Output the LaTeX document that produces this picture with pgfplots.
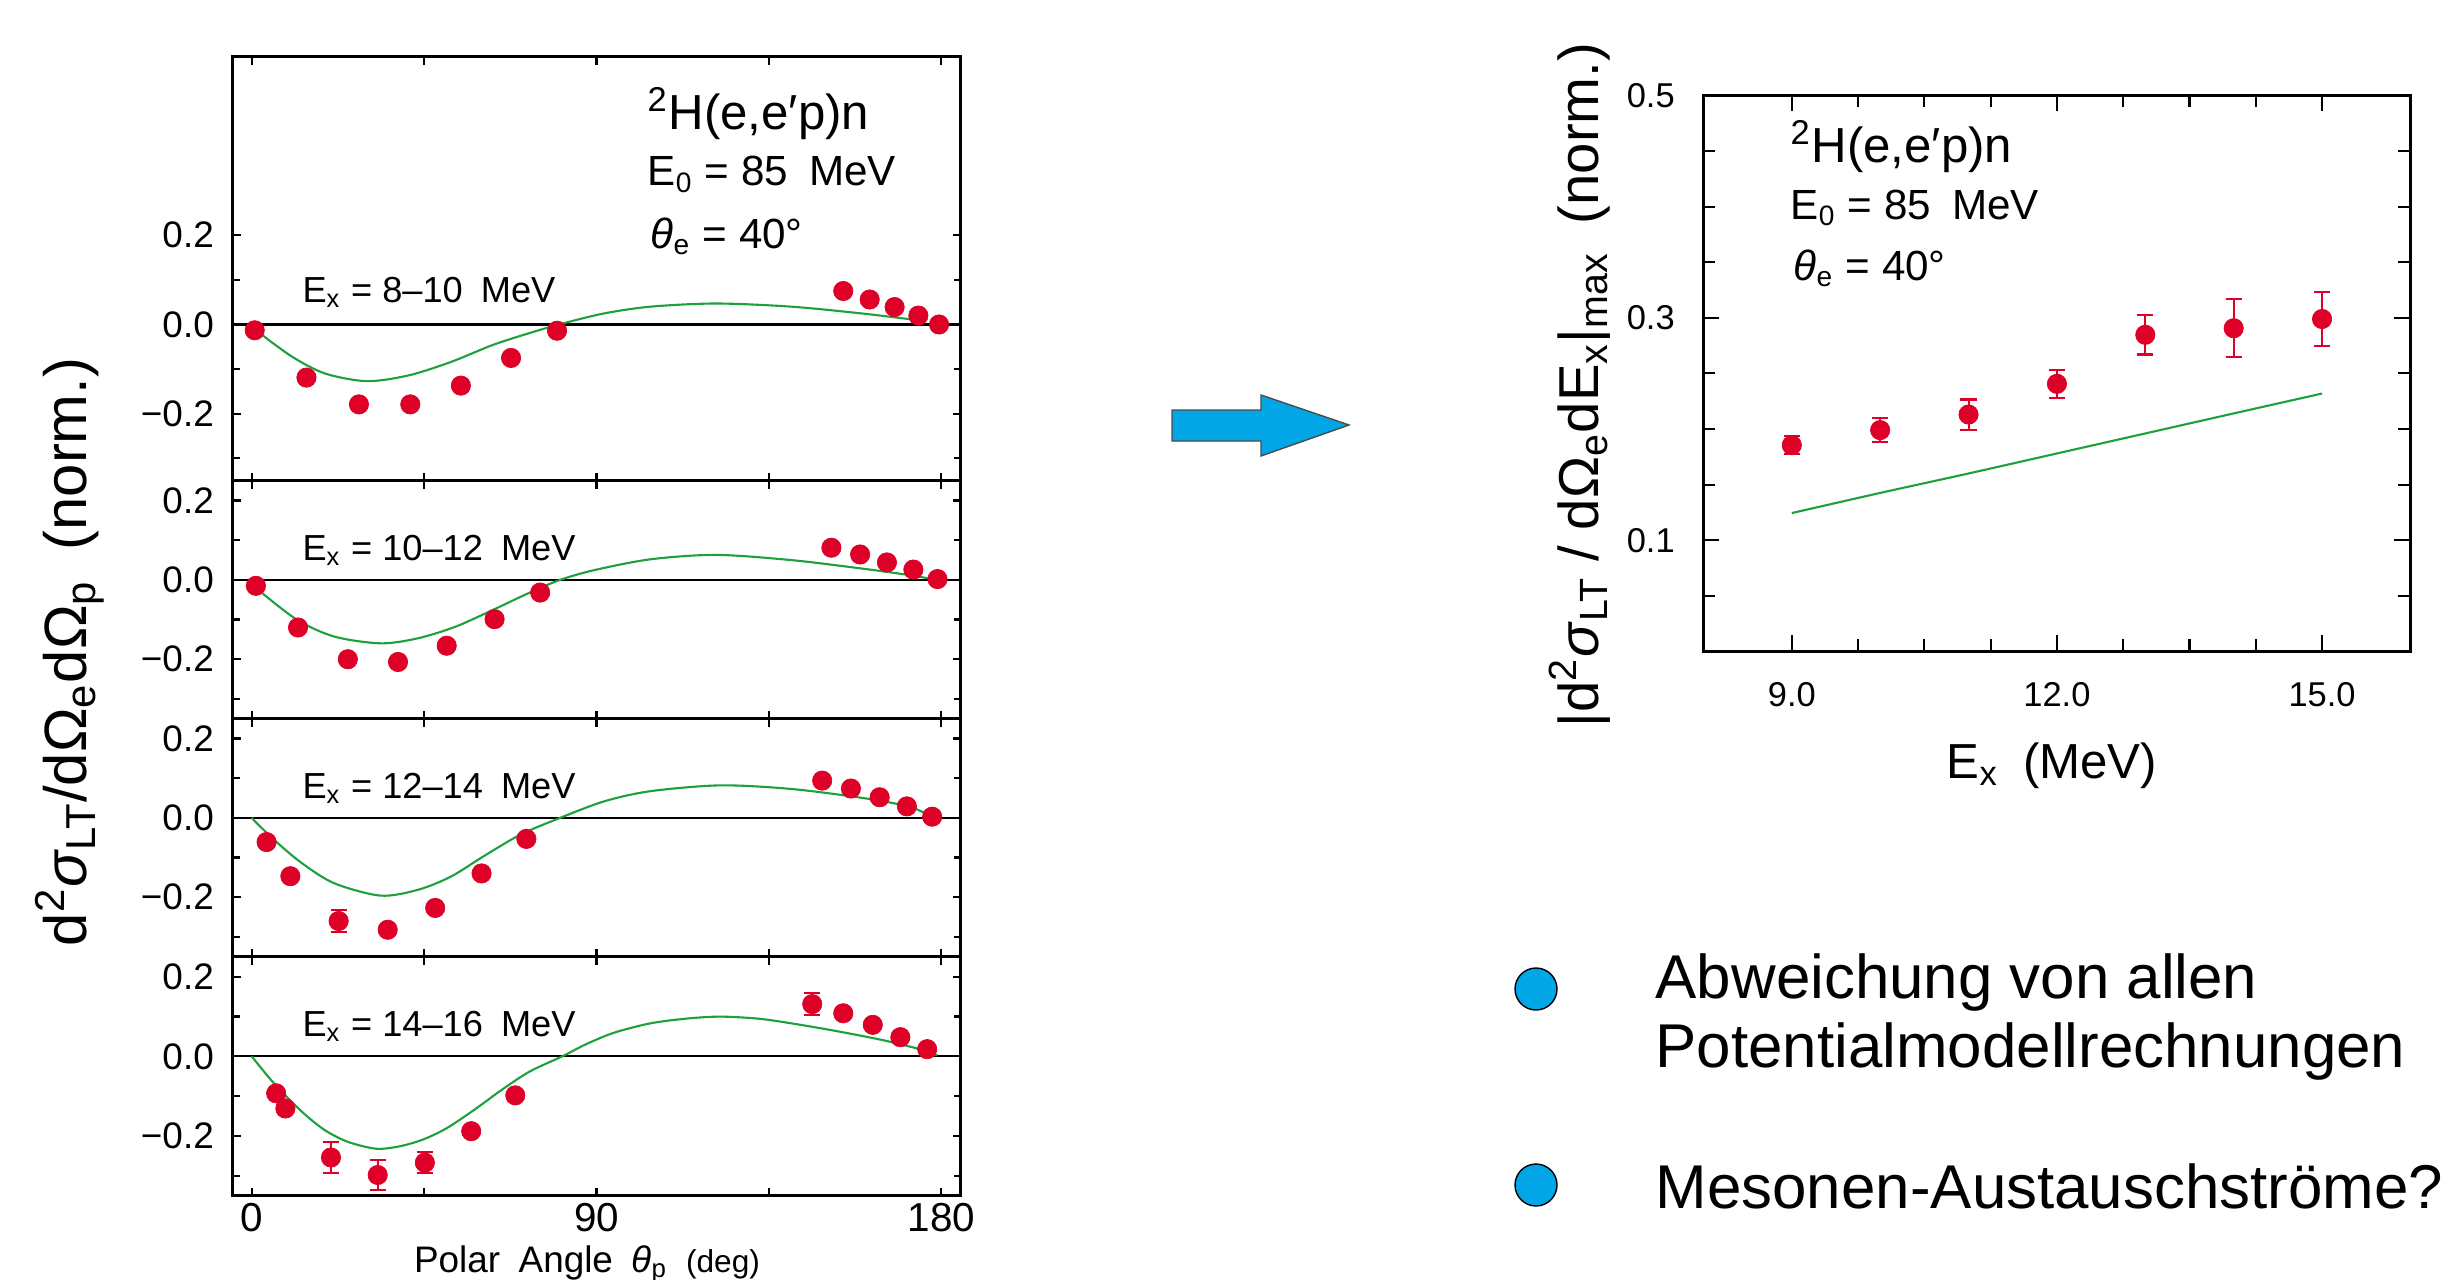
\documentclass[border=0pt]{standalone}
\usepackage{fontspec}
\setmainfont{Liberation Sans}
\newfontfamily\pf{Liberation Sans}
\usepackage{pgfplots}
\pgfplotsset{compat=1.18}

\definecolor{dotred}{RGB}{222,0,38}
\definecolor{thgreen}{RGB}{30,160,60}
\definecolor{arrowblue}{RGB}{0,166,230}
\newcommand{\fs}[1]{\fontsize{#1}{#1}\selectfont}

\tikzset{plab/.style={anchor=base west, inner sep=0pt, font=\pf\fs{10.3}}}
\pgfplotsset{
  frame/.style={scale only axis, anchor=north west, tick align=inside,
    axis line style={line width=0.8pt},
    every tick/.style={black, line width=0.6pt}},
  lp/.style={frame, width=7.28cm, xmin=-5, xmax=185,
    xtick={0,45,90,135,180}, xticklabels={},
    ytick={-0.2,0,0.2}, yticklabels={−0.2,0.0,0.2},
    minor ytick={-0.3,-0.1,0.1},
    major tick length=0.08cm, minor tick length=0.07cm,
    tick label style={font=\pf\fs{10.5}},
    yticklabel style={inner sep=0pt, xshift=-0.18cm}},
  dots/.style={only marks, mark=*, mark size=2.75pt, color=dotred,
    mark options={fill=dotred, draw=dotred, line width=0.2pt},
    error bars/.cd, y dir=both, y explicit,
    error bar style={dotred, line width=0.6pt},
    error mark options={dotred, rotate=90, mark size=2.3pt, line width=0.6pt}},
  theory/.style={thgreen, line width=0.6pt, smooth, no marks},
  zero/.style={black, line width=0.6pt, no marks},
}

\begin{document}
\begin{tikzpicture}
\path[use as bounding box] (0,0) rectangle (24.63cm,-12.79cm);

% ---- panel 1: Ex = 8-10 MeV
\begin{axis}[lp, at={(2.325cm,-0.567cm)}, height=4.24cm, ymin=-0.35, ymax=0.6]
\addplot[zero] coordinates {(-5,0) (185,0)};
\addplot[theory] table {
x y
2.8 -0.024
10.7 -0.073
19.2 -0.110
30.1 -0.127
41.0 -0.114
52.0 -0.084
62.9 -0.046
72.6 -0.019
81.1 0.002
92.1 0.025
104.2 0.040
121.2 0.047
140.7 0.040
158.9 0.025
173.5 0.010
};
\addplot[dots] table {
x y
0.8 -0.013
14.3 -0.119
28.0 -0.179
41.4 -0.179
54.6 -0.137
67.7 -0.075
79.7 -0.014
154.4 0.075
161.3 0.056
167.8 0.039
174.0 0.020
179.4 0.000
};
\node[plab] at (axis cs:13.1,0.05) {E\textsubscript{x} = 8–10\enspace MeV};
\end{axis}

% ---- panel 2: Ex = 10-12 MeV
\begin{axis}[lp, at={(2.325cm,-4.807cm)}, height=2.38cm, ymin=-0.35, ymax=0.25]
\addplot[zero] coordinates {(-5,0) (185,0)};
\addplot[theory] table {
x y
2.2 -0.029
11.9 -0.101
21.6 -0.143
33.7 -0.160
43.5 -0.147
53.2 -0.118
62.9 -0.076
72.6 -0.032
80.5 0.0
89.6 0.025
104.2 0.052
121.2 0.063
140.7 0.050
158.9 0.029
171.0 0.013
177.7 0.002
};
\addplot[dots] table {
x y
1.1 -0.015
12.1 -0.120
25.1 -0.200
38.2 -0.207
50.9 -0.166
63.4 -0.099
75.3 -0.032
151.3 0.081
158.8 0.064
165.8 0.044
172.7 0.026
179.0 0.002
};
\node[plab] at (axis cs:13.1,0.05) {E\textsubscript{x} = 10–12\enspace MeV};
\end{axis}

% ---- panel 3: Ex = 12-14 MeV
\begin{axis}[lp, at={(2.325cm,-7.187cm)}, height=2.38cm, ymin=-0.35, ymax=0.25]
\addplot[zero] coordinates {(-5,0) (185,0)};
\addplot[theory] table {
x y
0 0
5.8 -0.055
13.1 -0.114
21.6 -0.165
33.7 -0.196
43.5 -0.181
52.0 -0.148
60.5 -0.097
70.2 -0.042
80.5 0.0
92.1 0.042
104.2 0.0675
122.4 0.082
140.7 0.073
158.9 0.051
171.0 0.030
175.9 0.011
};
\addplot[dots] table [x=x, y=y, y error=e] {
x y e
3.9 -0.061 0
10.1 -0.147 0
22.7 -0.260 0.027
35.5 -0.282 0
47.9 -0.227 0
60.0 -0.140 0
71.7 -0.053 0
148.9 0.094 0
156.4 0.074 0
163.9 0.052 0
171.0 0.029 0
177.6 0.003 0
};
\node[plab] at (axis cs:13.1,0.05) {E\textsubscript{x} = 12–14\enspace MeV};
\end{axis}

% ---- panel 4: Ex = 14-16 MeV
\begin{axis}[lp, at={(2.325cm,-9.567cm)}, height=2.39cm, ymin=-0.35, ymax=0.25,
  xticklabels={0,,90,,180},
  xticklabel style={font=\pf\fs{11.5}, inner sep=0pt, yshift=-0.07cm}]
\addplot[zero] coordinates {(-5,0) (185,0)};
\addplot[theory] table {
x y
0 0
5.8 -0.0675
13.1 -0.139
19.2 -0.186
25.2 -0.215
32.5 -0.232
38.6 -0.226
44.7 -0.209
50.8 -0.181
58.0 -0.135
65.3 -0.084
72.6 -0.038
81.1 0.0
87.2 0.030
94.5 0.059
104.2 0.083
113.9 0.095
122.4 0.0996
132.2 0.0945
140.7 0.083
152.8 0.063
165.0 0.040
174.7 0.017
179.0 0.002
};
\addplot[dots] table [x=x, y=y, y error=e] {
x y e
6.4 -0.093 0
8.8 -0.131 0
20.7 -0.254 0.038
32.9 -0.298 0.037
45.2 -0.267 0.027
57.3 -0.188 0
68.8 -0.098 0
146.3 0.131 0.027
154.4 0.108 0
162.1 0.079 0
169.3 0.048 0
176.3 0.018 0
};
\node[plab] at (axis cs:13.1,0.05) {E\textsubscript{x} = 14–16\enspace MeV};
\end{axis}

% ---- right panel: maximum vs Ex
\begin{axis}[frame, at={(17.034cm,-0.954cm)}, width=7.07cm, height=5.56cm,
  xmin=8, xmax=16, ymin=0, ymax=0.5,
  xtick={9,12,15}, xticklabels={9.0,12.0,15.0},
  minor xtick={9.75,10.5,11.25,12.75,13.5,14.25},
  ytick={0.1,0.3,0.5}, yticklabels={0.1,0.3,0.5},
  minor ytick={0.05,0.15,0.2,0.25,0.35,0.4,0.45},
  major tick length=0.16cm, minor tick length=0.12cm,
  tick label style={font=\pf\fs{9.8}},
  xticklabel style={inner sep=0pt, yshift=-0.3cm},
  yticklabel style={inner sep=0pt, xshift=-0.28cm}]
\addplot[theory] table {
x y
9 0.1244
10 0.1425
11 0.160
12 0.178
13 0.196
14 0.214
15 0.2319
};
\addplot[dots] table [x=x, y=y, y error=e] {
x y e
9 0.1855 0.008
10 0.199 0.011
11 0.213 0.0135
12 0.2406 0.0126
13 0.2847 0.0177
14 0.2906 0.026
15 0.2989 0.024
};
\end{axis}

% ---- annotations
\begin{scope}[every node/.style={anchor=base west, inner sep=0pt}]
\node[font=\pf\fs{14}] at (6.47cm,-1.30cm) {\textsuperscript{2}H(e,e′p)n};
\node[font=\pf\fs{12}] at (6.47cm,-1.86cm) {E\textsubscript{0} = 85\enspace MeV};
\node[font=\pf\fs{12}] at (6.50cm,-2.48cm) {\textit{θ}\textsubscript{e} = 40°};
\node[font=\pf\fs{14}] at (17.90cm,-1.63cm) {\textsuperscript{2}H(e,e′p)n};
\node[font=\pf\fs{12}] at (17.90cm,-2.19cm) {E\textsubscript{0} = 85\enspace MeV};
\node[font=\pf\fs{12}] at (17.93cm,-2.80cm) {\textit{θ}\textsubscript{e} = 40°};
\end{scope}

% axis titles
\node[font=\pf\fs{10.5}, anchor=base] at (5.87cm,-12.72cm)
  {Polar\enspace Angle\enspace \textit{θ}\textsubscript{p}\enspace{\fs{9}(deg)}};
\node[font=\pf\fs{17}, rotate=90] at (0.70cm,-6.52cm)
  {d\textsuperscript{2}\textit{σ}\textsubscript{LT}/dΩ\textsubscript{e}dΩ\textsubscript{p}\enspace(norm.)};
\node[font=\pf\fs{14}, anchor=base] at (20.52cm,-7.78cm)
  {E\textsubscript{x}\enspace(MeV)};
\node[font=\pf\fs{16}, rotate=90] at (15.80cm,-3.85cm)
  {|d\textsuperscript{2}\textit{σ}\textsubscript{LT} / dΩ\textsubscript{e}dE\textsubscript{x}|\textsubscript{max}\enspace(norm.)};

% arrow
\filldraw[fill=arrowblue, draw=black!70, line width=0.4pt]
  (11.72cm,-4.10cm) -- (12.61cm,-4.10cm) -- (12.61cm,-3.95cm) -- (13.49cm,-4.25cm)
  -- (12.61cm,-4.56cm) -- (12.61cm,-4.41cm) -- (11.72cm,-4.41cm) -- cycle;

% bullets
\filldraw[fill=arrowblue, draw=black, line width=0.4pt] (15.36cm,-9.89cm) circle (0.21cm);
\filldraw[fill=arrowblue, draw=black, line width=0.4pt] (15.36cm,-11.85cm) circle (0.21cm);
\begin{scope}[every node/.style={anchor=base west, inner sep=0pt, font=\fs{17.6}}]
\node at (16.55cm,-9.98cm) {Abweichung von allen};
\node at (16.55cm,-10.67cm) {Potentialmodellrechnungen};
\node at (16.55cm,-12.08cm) {Mesonen-Austauschströme?};
\end{scope}
\end{tikzpicture}
\end{document}
